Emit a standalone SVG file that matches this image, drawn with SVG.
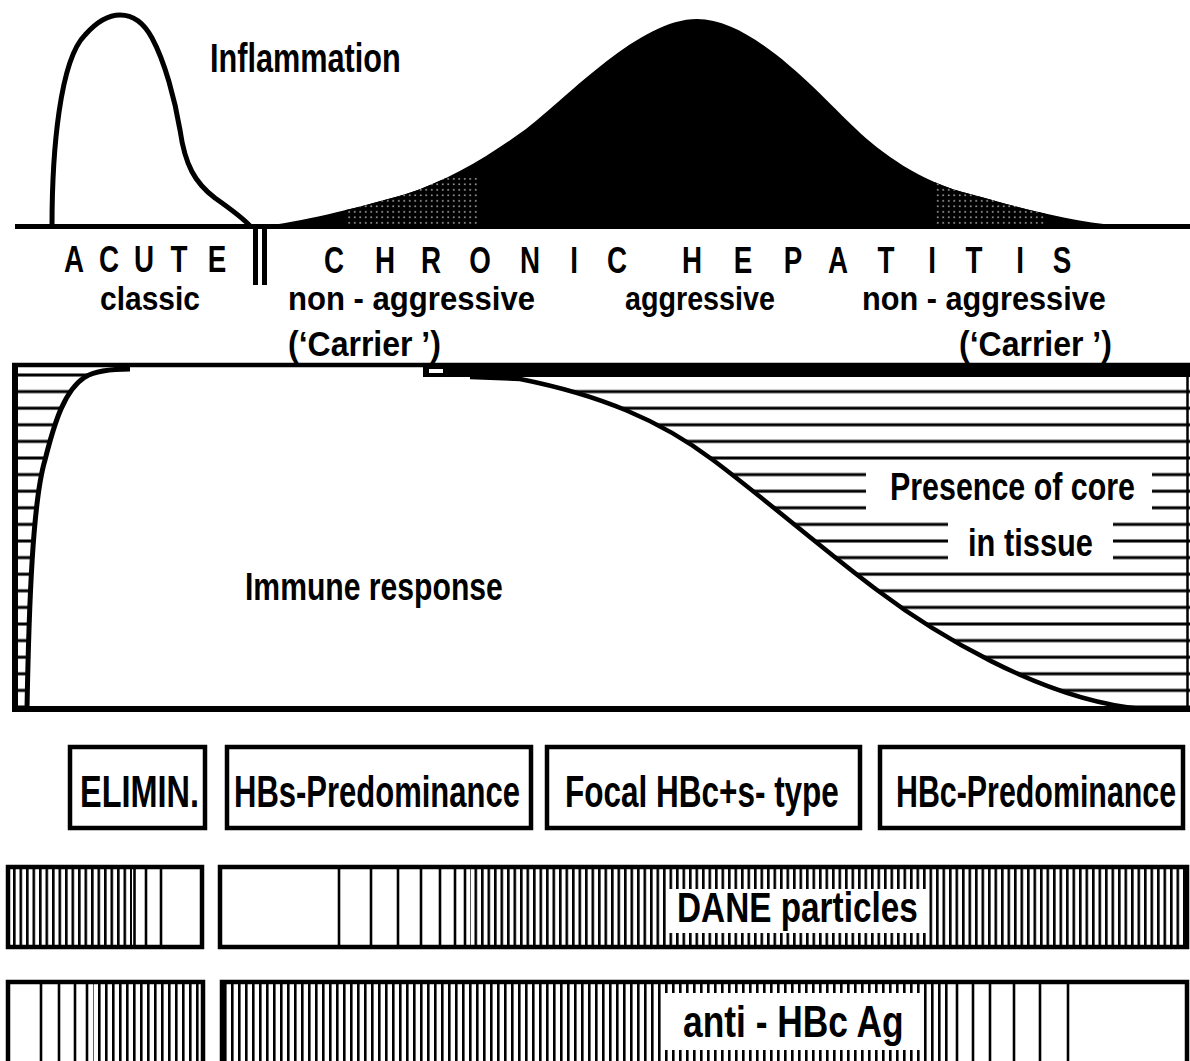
<svg xmlns="http://www.w3.org/2000/svg" width="1190" height="1061" viewBox="0 0 1190 1061">
<defs>
<style>
.t{font-family:"Liberation Sans",Arial,sans-serif;font-weight:bold;fill:#000}
.ln{stroke:#000;fill:none}
.box{fill:#fff;stroke:#000;stroke-width:4.5}
.vl{stroke:#000;stroke-width:2.6}
</style>
<pattern id="dots" width="5.5" height="5.5" patternUnits="userSpaceOnUse"><rect width="5.5" height="5.5" fill="#000"/><circle cx="2.75" cy="2.75" r="0.8" fill="#fff"/></pattern>
<pattern id="hatch" width="20" height="16.6" patternUnits="userSpaceOnUse"><rect x="0" y="8.3" width="20" height="3" fill="#000"/></pattern>
<pattern id="v1" width="6.5" height="20" patternUnits="userSpaceOnUse"><rect x="0" y="0" width="2.6" height="20" fill="#000"/></pattern>
<pattern id="v2" width="7" height="20" patternUnits="userSpaceOnUse"><rect x="0" y="0" width="2.6" height="20" fill="#000"/></pattern>
<clipPath id="bellclip"><path d="M263,226 C300,222 350,210 406,194 C450,180 490,155 526,129 C570,95 640,19 697,19 C754,19 820,95 856,129 C880,152 920,182 970,194 C1010,205 1060,220 1120,226 Z"/></clipPath>
</defs>

<g id="inflammation-chart">
<path d="M263,226 C300,222 350,210 406,194 C450,180 490,155 526,129 C570,95 640,19 697,19 C754,19 820,95 856,129 C880,152 920,182 970,194 C1010,205 1060,220 1120,226 Z" fill="#000"/>
<g clip-path="url(#bellclip)">
<rect x="345" y="178" width="135" height="46" fill="url(#dots)"/>
<rect x="935" y="180" width="110" height="44" fill="url(#dots)"/>
</g>
<path class="ln" stroke-width="5" d="M52,226 C52,150 60,60 85,35 C100,18 112,15 120,15 C135,15 145,25 152,38 C165,62 175,100 180,130 C185,165 195,183 215,198 C232,210 243,218 250,226"/>
<line class="ln" x1="15" y1="226.5" x2="1190" y2="226.5" stroke-width="5"/>
<rect x="253" y="228" width="5" height="57" fill="#000"/>
<rect x="262" y="228" width="5" height="57" fill="#000"/>
<text class="t" font-size="40" transform="translate(210,72) scale(0.767,1)">Inflammation</text>
</g>

<g id="phase-labels">
<text class="t" font-size="37" text-anchor="middle" transform="scale(0.75,1)" y="272" x="98.67 122 145.33 168.67 192 215.33 238.67 264 289.33">A C U T E</text>
<text class="t" font-size="37" text-anchor="middle" transform="scale(0.75,1)" y="273" x="445.33 479.3 513.33 544 574.67 607.3 640 673.3 706.67 736 765.33 794 822.67">C H R O N I C</text>
<text class="t" font-size="37" text-anchor="middle" transform="scale(0.75,1)" y="273" x="922.67 956.7 990.67 1024 1057.33 1087.3 1117.33 1149.3 1181.33 1212 1242.67 1270.7 1298.67 1329.3 1360 1388 1416">H E P A T I T I S</text>
<text class="t" font-size="33" transform="translate(100,310) scale(0.908,1)">classic</text>
<text class="t" font-size="33" transform="translate(288,310) scale(0.942,1)">non - aggressive</text>
<text class="t" font-size="33" transform="translate(625,310) scale(0.870,1)">aggressive</text>
<text class="t" font-size="33" transform="translate(862,310) scale(0.930,1)">non - aggressive</text>
<text class="t" font-size="36" transform="translate(288,356) scale(0.889,1)">(‘Carrier ’)</text>
<text class="t" font-size="36" transform="translate(959,356) scale(0.889,1)">(‘Carrier ’)</text>
</g>

<g id="immune-chart">
<rect x="14" y="366" width="1176" height="343" fill="url(#hatch)"/>
<rect x="866" y="466" width="286" height="49" fill="#fff"/>
<rect x="948" y="516" width="165" height="49" fill="#fff"/>
<path fill="#fff" d="M27,709 C29,600 33,500 45,460 C55,420 65,390 85,377 C95,371 110,369 130,369 L423,369 L423,377 L520,379 C600,395 660,420 713,460 C760,495 830,555 877,590 C930,630 1040,700 1142,709 Z"/>
<path class="ln" stroke-width="5" d="M27,709 C29,600 33,500 45,460 C55,420 65,390 85,377 C95,371 110,369 130,369"/>
<path class="ln" stroke-width="4.5" d="M470,377 L520,379 C600,395 660,420 713,460 C760,495 830,555 877,590 C930,630 1040,700 1142,709"/>
<rect x="423" y="365" width="767" height="12" fill="#000"/>
<rect x="429" y="369" width="14" height="4" fill="#fff"/>
<line class="ln" x1="12" y1="365" x2="1190" y2="365" stroke-width="4.5"/>
<line class="ln" x1="15" y1="363" x2="15" y2="712" stroke-width="6"/>
<line class="ln" x1="12" y1="709" x2="1190" y2="709" stroke-width="6"/>
<line class="ln" x1="1187.5" y1="365" x2="1187.5" y2="712" stroke-width="2.5"/>
<text class="t" font-size="38" transform="translate(245,600) scale(0.793,1)">Immune response</text>
<text class="t" font-size="38" transform="translate(890,500) scale(0.80,1)">Presence of core</text>
<text class="t" font-size="38" transform="translate(968,556) scale(0.811,1)">in tissue</text>
</g>

<g id="box-elimin">
<rect class="box" x="70" y="747" width="135" height="81"/>
<text class="t" font-size="45" transform="translate(80,807) scale(0.721,1)">ELIMIN.</text>
</g>
<g id="box-hbs">
<rect class="box" x="227" y="747" width="304" height="81"/>
<text class="t" font-size="45" transform="translate(234,807) scale(0.689,1)">HBs-Predominance</text>
</g>
<g id="box-focal">
<rect class="box" x="547" y="747" width="313" height="81"/>
<text class="t" font-size="45" transform="translate(565,807) scale(0.70,1)">Focal HBc+s- type</text>
</g>
<g id="box-hbc">
<rect class="box" x="880" y="747" width="303" height="81"/>
<text class="t" font-size="45" transform="translate(896,807) scale(0.675,1)">HBc-Predominance</text>
</g>

<g id="dane-bar">
<rect x="10" y="867" width="122" height="80" fill="url(#v1)"/>
<g class="vl">
<line x1="134.5" y1="867" x2="134.5" y2="947"/><line x1="146" y1="867" x2="146" y2="947"/><line x1="161" y1="867" x2="161" y2="947"/>
<line x1="339" y1="867" x2="339" y2="947"/><line x1="371" y1="867" x2="371" y2="947"/><line x1="398" y1="867" x2="398" y2="947"/><line x1="421" y1="867" x2="421" y2="947"/><line x1="440" y1="867" x2="440" y2="947"/><line x1="455" y1="867" x2="455" y2="947"/><line x1="465" y1="867" x2="465" y2="947"/>
</g>
<rect x="470" y="867" width="717" height="80" fill="url(#v1)"/>
<rect x="668" y="889" width="259" height="44" fill="#fff"/>
<rect x="8" y="867" width="194" height="80" fill="none" stroke="#000" stroke-width="4.5"/>
<rect x="220" y="867" width="967" height="80" fill="none" stroke="#000" stroke-width="4.5"/>
<text class="t" font-size="42" transform="translate(677,922) scale(0.794,1)">DANE particles</text>
</g>

<g id="antihbc-bar">
<g class="vl">
<line x1="41" y1="982" x2="41" y2="1070"/><line x1="59" y1="982" x2="59" y2="1070"/><line x1="75" y1="982" x2="75" y2="1070"/><line x1="87" y1="982" x2="87" y2="1070"/>
<line x1="957" y1="982" x2="957" y2="1070"/><line x1="973" y1="982" x2="973" y2="1070"/><line x1="990" y1="982" x2="990" y2="1070"/><line x1="1014" y1="982" x2="1014" y2="1070"/><line x1="1040" y1="982" x2="1040" y2="1070"/><line x1="1068" y1="982" x2="1068" y2="1070"/>
</g>
<rect x="93" y="982" width="110" height="88" fill="url(#v2)"/>
<rect x="222" y="982" width="726" height="88" fill="url(#v2)"/>
<rect x="663" y="993" width="260" height="57" fill="#fff"/>
<rect x="8" y="982" width="195" height="88" fill="none" stroke="#000" stroke-width="4.5"/>
<rect x="222" y="982" width="965" height="88" fill="none" stroke="#000" stroke-width="4.5"/>
<text class="t" font-size="44" transform="translate(683,1037) scale(0.804,1)">anti - HBc Ag</text>
</g>
</svg>
